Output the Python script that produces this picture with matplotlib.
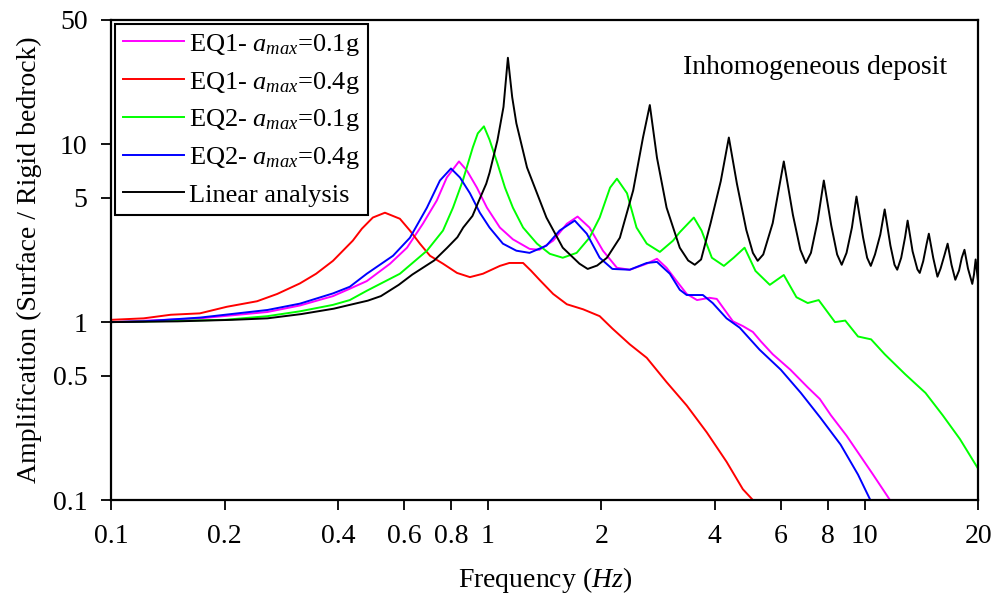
import matplotlib
matplotlib.use("Agg")
from matplotlib import pyplot as plt
import matplotlib.ticker as mtick

plt.rcParams['font.family'] = ['Liberation Serif', 'DejaVu Serif']
plt.rcParams['mathtext.fontset'] = 'custom'
plt.rcParams['mathtext.rm'] = 'Liberation Serif'
plt.rcParams['mathtext.it'] = 'Liberation Serif:italic'

# linear analysis (black)
f_lin = [0.10, 0.15, 0.21, 0.26, 0.32, 0.39, 0.43, 0.48, 0.52, 0.58, 0.63, 0.72, 0.78, 0.83, 0.86,
         0.91, 0.95, 0.99, 1.01, 1.06, 1.10, 1.13, 1.16, 1.19, 1.27, 1.35, 1.43, 1.58, 1.75, 1.84,
         1.95, 2.07, 2.24, 2.43, 2.58, 2.69, 2.81, 2.98, 3.23, 3.40, 3.54, 3.68, 3.90, 4.15, 4.36,
         4.58, 4.85, 5.05, 5.20, 5.38, 5.70, 6.10, 6.45, 6.75, 6.98, 7.20, 7.50, 7.79, 8.15, 8.45,
         8.69, 8.95, 9.25, 9.51, 9.90, 10.15, 10.38, 10.65, 11.0, 11.3, 11.7, 12.0, 12.2, 12.5, 12.8,
         13.0, 13.4, 13.8, 14.0, 14.3, 14.6, 14.8, 15.2, 15.6, 15.9, 16.3, 16.6, 17.0, 17.4, 17.8,
         18.1, 18.4, 18.8, 19.3, 19.5, 19.7, 20.0]
a_lin = [1.00, 1.01, 1.03, 1.05, 1.11, 1.19, 1.25, 1.32, 1.40, 1.62, 1.85, 2.22, 2.62, 3.0, 3.4,
         3.95, 4.9, 6.0, 6.9, 10.5, 16.2, 30.6, 18.4, 13.1, 7.4, 5.3, 3.87, 2.62, 2.13, 1.99,
         2.08, 2.30, 2.98, 5.5, 10.9, 16.6, 8.4, 4.4, 2.62, 2.22, 2.10, 2.25, 3.6, 6.2, 10.9,
         6.0, 3.3, 2.45, 2.21, 2.40, 3.6, 8.0, 4.0, 2.55, 2.15, 2.45, 3.7, 6.25, 3.5, 2.4,
         2.10, 2.45, 3.4, 5.08, 3.0, 2.3, 2.07, 2.4, 3.1, 4.3, 2.7, 2.1, 1.97, 2.3, 3.0,
         3.72, 2.5, 1.98, 1.89, 2.2, 2.75, 3.14, 2.3, 1.80, 2.0, 2.4, 2.76, 2.1, 1.73, 1.95,
         2.3, 2.55, 2.0, 1.64, 1.85, 2.25, 1.68]

# EQ1 amax=0.1g (magenta)
f_eq1_01 = [0.10, 0.172, 0.26, 0.317, 0.388, 0.43, 0.477, 0.55, 0.61, 0.672, 0.732, 0.778, 0.838,
            0.88, 0.935, 0.994, 1.076, 1.165, 1.29, 1.37, 1.49, 1.62, 1.73, 1.86, 2.02, 2.2, 2.38,
            2.64, 2.81, 2.98, 3.17, 3.37, 3.59, 3.87, 4.05, 4.47, 4.75, 5.05, 5.3, 5.7, 6.35, 7.06,
            7.6, 8.13, 8.95, 9.6, 10.5, 11.9]
a_eq1_01 = [1.00, 1.05, 1.14, 1.24, 1.40, 1.54, 1.70, 2.13, 2.62, 3.57, 4.83, 6.5, 8.0,
            7.1, 5.7, 4.4, 3.4, 2.92, 2.58, 2.55, 2.87, 3.57, 3.92, 3.4, 2.52, 2.02, 1.97,
            2.13, 2.27, 2.02, 1.70, 1.44, 1.33, 1.37, 1.35, 1.01, 0.95, 0.88, 0.78, 0.66, 0.54, 0.43,
            0.37, 0.30, 0.23, 0.185, 0.14, 0.094]

# EQ1 amax=0.4g (red)
f_eq1_04 = [0.10, 0.122, 0.144, 0.172, 0.203, 0.244, 0.276, 0.317, 0.35, 0.388, 0.438, 0.463,
            0.495, 0.533, 0.584, 0.621, 0.66, 0.702, 0.76, 0.828, 0.896, 0.97, 1.076, 1.14, 1.24,
            1.30, 1.374, 1.49, 1.62, 1.79, 1.98, 2.14, 2.38, 2.64, 2.98, 3.37, 3.81, 4.30, 4.75,
            5.05, 5.2]
a_eq1_04 = [1.03, 1.05, 1.10, 1.12, 1.22, 1.31, 1.44, 1.65, 1.87, 2.21, 2.87, 3.35,
            3.87, 4.12, 3.81, 3.27, 2.76, 2.36, 2.13, 1.89, 1.79, 1.87, 2.07, 2.15, 2.15,
            1.95, 1.72, 1.44, 1.26, 1.18, 1.08, 0.92, 0.75, 0.63, 0.46, 0.34, 0.24, 0.164, 0.115,
            0.10, 0.09]

# EQ2 amax=0.1g (green)
f_eq2_01 = [0.10, 0.2, 0.26, 0.317, 0.388, 0.43, 0.477, 0.584, 0.689, 0.76, 0.808, 0.858, 0.912,
            0.94, 0.976, 1.01, 1.06, 1.11, 1.165, 1.24, 1.35, 1.46, 1.58, 1.72, 1.86, 1.98, 2.11,
            2.2, 2.34, 2.48, 2.64, 2.86, 3.1, 3.23, 3.52, 3.69, 3.93, 4.23, 4.49, 4.80, 5.13, 5.6,
            6.1, 6.59, 7.06, 7.55, 8.34, 8.88, 9.6, 10.4, 11.3, 12.8, 14.5, 16.1, 17.9, 20.0]
a_eq2_01 = [1.00, 1.03, 1.08, 1.15, 1.25, 1.33, 1.50, 1.87, 2.52, 3.27, 4.4, 6.25, 9.6,
            11.5, 12.6, 10.6, 7.8, 5.7, 4.4, 3.4, 2.76, 2.42, 2.30, 2.45, 2.98, 3.87, 5.7,
            6.4, 5.3, 3.4, 2.76, 2.48, 2.87, 3.2, 3.87, 3.27, 2.30, 2.07, 2.30, 2.62, 1.94, 1.62,
            1.84, 1.38, 1.28, 1.33, 1.0, 1.02, 0.83, 0.80, 0.66, 0.51, 0.40, 0.30, 0.22, 0.15]

# EQ2 amax=0.4g (blue)
f_eq2_04 = [0.10, 0.122, 0.172, 0.26, 0.317, 0.388, 0.43, 0.477, 0.56, 0.621, 0.689, 0.746, 0.798,
            0.843, 0.896, 0.952, 1.01, 1.096, 1.19, 1.29, 1.43, 1.55, 1.70, 1.83, 1.98, 2.14, 2.38,
            2.64, 2.81, 3.04, 3.23, 3.37, 3.72, 3.95, 4.30, 4.66, 5.26, 5.99, 6.77, 7.63, 8.63,
            9.6, 10.5]
a_eq2_04 = [1.00, 1.01, 1.06, 1.17, 1.27, 1.45, 1.58, 1.87, 2.36, 2.98, 4.4, 6.25, 7.3,
            6.5, 5.3, 4.12, 3.4, 2.76, 2.52, 2.45, 2.69, 3.27, 3.72, 3.14, 2.30, 1.99, 1.97,
            2.15, 2.18, 1.87, 1.52, 1.42, 1.42, 1.28, 1.05, 0.93, 0.70, 0.54, 0.40, 0.29, 0.205,
            0.139, 0.094]

xticks = [0.1, 0.2, 0.4, 0.6, 0.8, 1, 2, 4, 6, 8, 10, 20]
xticklabels = ["0.1", "0.2", "0.4", "0.6", "0.8", "1", "2", "4", "6", "8", "10", "20"]
yticks = [0.1, 0.5, 1, 5, 10, 50]
yticklabels = ["0.1", "0.5", "1", "5", "10", "50"]

fig = plt.figure(figsize=(9.92, 6.01), dpi=100)
ax = fig.add_subplot(111)
fig.subplots_adjust(left=0.112, right=0.986, top=0.967, bottom=0.168)

lw = 1.4
ax.plot(f_eq1_01, a_eq1_01, color="#ff00ff", lw=lw, label=r"EQ1- $a_{max}$=0.1g")
ax.plot(f_eq1_04, a_eq1_04, color="#ff0000", lw=lw, label=r"EQ1- $a_{max}$=0.4g")
ax.plot(f_eq2_01, a_eq2_01, color="#00ff00", lw=lw, label=r"EQ2- $a_{max}$=0.1g")
ax.plot(f_eq2_04, a_eq2_04, color="#0000ff", lw=lw, label=r"EQ2- $a_{max}$=0.4g")
ax.plot(f_lin, a_lin, color="black", lw=lw, label="Linear analysis")

ax.set_xscale("log")
ax.set_yscale("log")
ax.set_xlim(0.1, 20)
ax.set_ylim(0.1, 50)

ax.xaxis.set_major_locator(mtick.FixedLocator(xticks))
ax.xaxis.set_major_formatter(mtick.FixedFormatter(xticklabels))
ax.xaxis.set_minor_locator(mtick.NullLocator())
ax.yaxis.set_major_locator(mtick.FixedLocator(yticks))
ax.yaxis.set_major_formatter(mtick.FixedFormatter(yticklabels))
ax.yaxis.set_minor_locator(mtick.NullLocator())
ax.tick_params(direction="out", length=7, width=1.3, labelsize=20, pad=10)

for s in ax.spines.values():
    s.set_linewidth(1.6)

ax.set_xlabel("Frequency ($Hz$)", fontsize=20, labelpad=12)
ax.set_ylabel("Amplification (Surface / Rigid bedrock)", fontsize=20, labelpad=8)

ax.text(0.812, 0.9, "Inhomogeneous deposit", transform=ax.transAxes,
        ha="center", va="center", fontsize=20)

leg = ax.legend(loc="upper left", fontsize=19, frameon=True, fancybox=False,
                edgecolor="black", framealpha=1, borderaxespad=0.15,
                handlelength=2.3, handletextpad=0.2, labelspacing=0.45,
                borderpad=0.3)
leg.get_frame().set_linewidth(1.5)

plt.savefig("out.png", dpi=100)
